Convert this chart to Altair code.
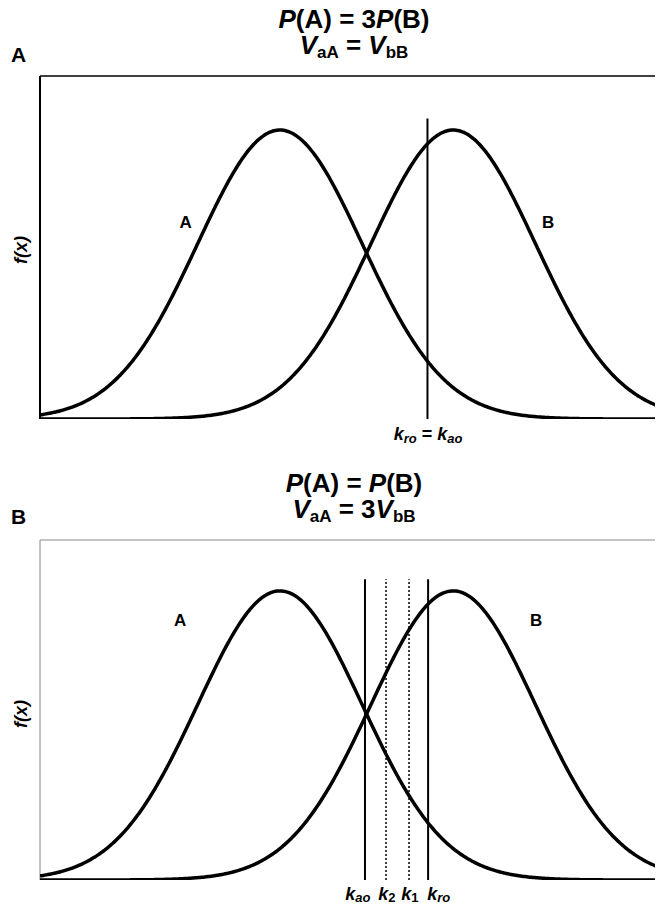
import altair as alt
import pandas as pd

FONT = "Liberation Sans"

# ---------------- data ----------------
X_DOMAIN = [0, 100]
CURVE_NAMES = ["A", "B"]
CURVE_MEANS = [38.2, 65.8]
CURVE_SD = 13.1

PANEL_A_YMAX = 1.187
PANEL_B_YMAX = 1.176
RULE_TOP = 1.04

PANEL_A_RULES = [61.7]
PANEL_A_RULE_STYLE = ["solid"]
PANEL_B_RULES = [51.75, 55.1, 58.76, 61.8]
PANEL_B_RULE_STYLE = ["solid", "dotted", "dotted", "solid"]

PANEL_A_CURVE_LABEL_X = [23.2, 80.9]
PANEL_A_CURVE_LABEL_Y = [0.68, 0.68]
PANEL_B_CURVE_LABEL_X = [22.3, 79.0]
PANEL_B_CURVE_LABEL_Y = [0.896, 0.896]

PANEL_A_K_LABELS = [
    (61.8, [("k", 18, True, 0), ("ro", 13, True, 3), (" = ", 18, False, 0),
            ("k", 18, True, 0), ("ao", 13, True, 3)]),
]
PANEL_B_K_LABELS = [
    (50.6, [("k", 18, True, 0), ("ao", 13, True, 2)]),
    (55.25, [("k", 18, True, 0), ("2", 13, False, 2)]),
    (58.9, [("k", 18, True, 0), ("1", 13, False, 2)]),
    (63.5, [("k", 18, True, 0), ("ro", 13, True, 2)]),
]

PANEL_A_TITLE = [
    [("P", 26, True, 0), ("(A) = 3", 26, False, 0), ("P", 26, True, 0), ("(B)", 26, False, 0)],
    [("V", 26, True, 0), ("aA", 17, False, 4), (" = ", 26, False, 0), ("V", 26, True, 0), ("bB", 17, False, 4)],
]
PANEL_B_TITLE = [
    [("P", 26, True, 0), ("(A) = ", 26, False, 0), ("P", 26, True, 0), ("(B)", 26, False, 0)],
    [("V", 26, True, 0), ("aA", 17, False, 4), (" = 3", 26, False, 0), ("V", 26, True, 0), ("bB", 17, False, 4)],
]

W = 628
HA = 343
HB = 340

# Arial / Liberation Sans Bold advance widths (per 1000 em)
CW = {" ": 278, "(": 333, ")": 333, "=": 584, "3": 556, "A": 722, "B": 722,
      "P": 667, "V": 667, "a": 556, "b": 611, "k": 556, "r": 389, "o": 611,
      "1": 556, "2": 556, "f": 333, "x": 556}


def tw(s, size):
    return sum(CW[c] for c in s) / 1000.0 * size


def rich(pieces, anchor, y_px, data_anchor=False):
    total = sum(tw(t, s) for t, s, it, dy in pieces)
    off = -total / 2.0
    layers = []
    for t, s, it, dy in pieces:
        lead = len(t) - len(t.lstrip())
        shown = t.strip()
        df = pd.DataFrame({"t": [shown], "k": [anchor]})
        xenc = alt.X("k:Q", axis=None) if data_anchor else alt.value(anchor)
        layers.append(
            alt.Chart(df).mark_text(
                align="left", baseline="alphabetic", dx=off + tw(t[:lead], s), dy=dy,
                fontSize=s, fontStyle="italic" if it else "normal",
                fontWeight="bold", font=FONT, color="black",
            ).encode(x=xenc, y=alt.value(y_px), text="t:N")
        )
        off += tw(t, s)
    return layers


def panel(letter, letter_y, title, height, ymax, rules, styles, lab_x, lab_y,
          k_labels, k_y, left_color, left_w, top_color, top_w):
    calc = {
        n: f"exp(-pow(datum.x - {m}, 2) / (2 * {CURVE_SD} * {CURVE_SD}))"
        for n, m in zip(CURVE_NAMES, CURVE_MEANS)
    }
    xs = alt.Scale(domain=X_DOMAIN, nice=False, zero=False)
    ys = alt.Scale(domain=[0, ymax], nice=False)
    curves = (
        alt.Chart(alt.sequence(X_DOMAIN[0], X_DOMAIN[1] + 0.25, 0.25, as_="x"))
        .transform_calculate(**calc)
        .transform_fold(CURVE_NAMES, as_=["curve", "f"])
        .mark_line(color="black", strokeWidth=3.5, clip=True)
        .encode(
            x=alt.X("x:Q", scale=xs,
                    axis=alt.Axis(title=None, labels=False, ticks=False, grid=False,
                                  domainColor="black", domainWidth=3)),
            y=alt.Y("f:Q", scale=ys, axis=None),
            detail="curve:N",
        )
    )
    frame = pd.DataFrame({"x0": [X_DOMAIN[0]], "x1": [X_DOMAIN[1]], "y0": [0.0], "y1": [ymax]})
    top = alt.Chart(frame).mark_rule(color=top_color, strokeWidth=top_w).encode(
        x=alt.X("x0:Q", axis=None), x2="x1:Q", y=alt.Y("y1:Q", axis=None))
    left = alt.Chart(frame).mark_rule(color=left_color, strokeWidth=left_w).encode(
        x=alt.X("x0:Q", axis=None), y=alt.Y("y0:Q", axis=None), y2="y1:Q")

    rdf = pd.DataFrame({"k": rules, "style": styles, "y0": 0.0, "y1": RULE_TOP})
    solid = alt.Chart(rdf[rdf["style"] == "solid"]).mark_rule(color="black", strokeWidth=2).encode(
        x=alt.X("k:Q", axis=None), y=alt.Y("y0:Q", axis=None), y2="y1:Q")
    layers = [top, left, curves, solid]
    if (rdf["style"] == "dotted").any():
        dotted = alt.Chart(rdf[rdf["style"] == "dotted"]).mark_rule(
            color="black", strokeWidth=1.5, strokeDash=[2, 2]).encode(
            x=alt.X("k:Q", axis=None), y=alt.Y("y0:Q", axis=None), y2="y1:Q")
        layers.append(dotted)

    ldf = pd.DataFrame({"x": lab_x, "y": lab_y, "t": CURVE_NAMES})
    labels = alt.Chart(ldf).mark_text(fontSize=17, fontWeight="bold", font=FONT, color="black").encode(
        x=alt.X("x:Q", axis=None), y=alt.Y("y:Q", axis=None), text="t:N")
    layers.append(labels)

    fx = alt.Chart(pd.DataFrame({"t": ["f(x)"]})).mark_text(
        angle=270, fontSize=18, fontStyle="italic", fontWeight="bold", font=FONT,
        align="center", baseline="middle", color="black"
    ).encode(x=alt.value(-18), y=alt.value(174), text="t:N")
    layers.append(fx)

    plet = alt.Chart(pd.DataFrame({"t": [letter]})).mark_text(
        align="left", baseline="alphabetic", fontSize=21, fontWeight="bold", font=FONT, color="black"
    ).encode(x=alt.value(-29), y=alt.value(letter_y), text="t:N")
    layers.append(plet)

    layers += rich(title[0], W / 2, -48)
    layers += rich(title[1], W / 2, -22)
    for anchor, pieces in k_labels:
        layers += rich(pieces, anchor, height + k_y, data_anchor=True)

    return alt.layer(*layers).properties(width=W, height=height)


pa = panel("A", -14, PANEL_A_TITLE, HA, PANEL_A_YMAX, PANEL_A_RULES, PANEL_A_RULE_STYLE,
           PANEL_A_CURVE_LABEL_X, PANEL_A_CURVE_LABEL_Y, PANEL_A_K_LABELS, 21,
           "black", 2, "black", 1.5)
pb = panel("B", -16, PANEL_B_TITLE, HB, PANEL_B_YMAX, PANEL_B_RULES, PANEL_B_RULE_STYLE,
           PANEL_B_CURVE_LABEL_X, PANEL_B_CURVE_LABEL_Y, PANEL_B_K_LABELS, 20,
           "#888888", 1, "#888888", 1)

chart = alt.vconcat(pa, pb, spacing=121, bounds="flush").properties(
    padding={"left": 3, "top": -1, "right": -14, "bottom": -3},
).configure_view(stroke=None)

chart.save("out.html", embed_options={"renderer": "svg", "actions": False})
